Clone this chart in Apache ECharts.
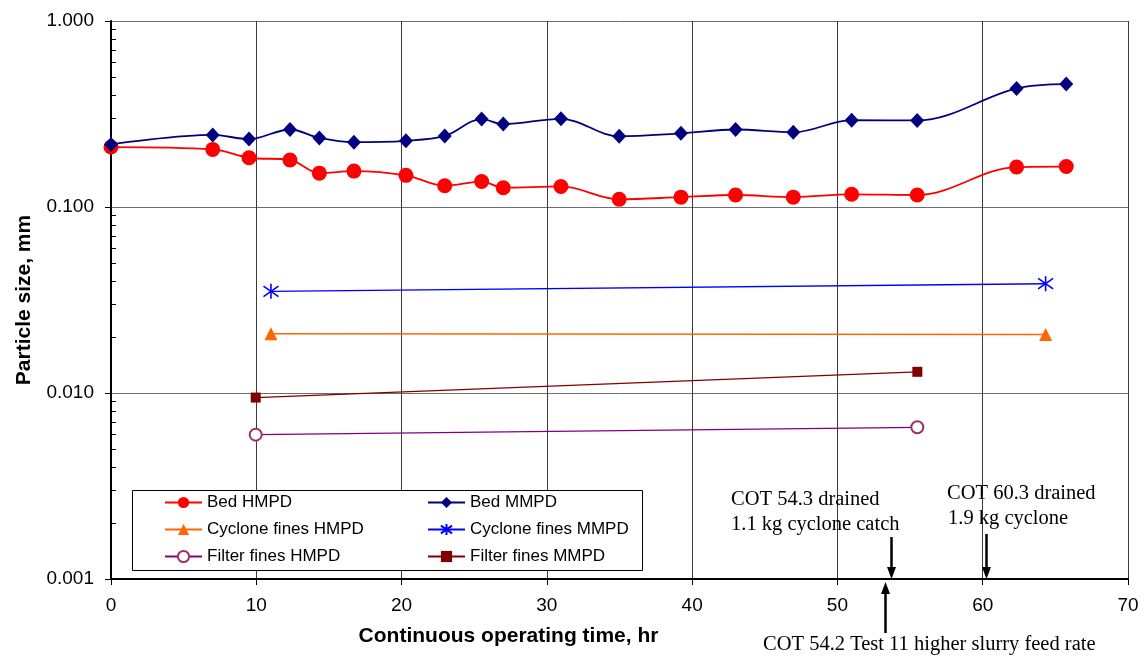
<!DOCTYPE html>
<html>
<head>
<meta charset="utf-8">
<script src="https://cdn.jsdelivr.net/npm/echarts@6/dist/echarts.min.js"></script>
<style>
  html, body { margin: 0; padding: 0; background: #ffffff; }
  #chart { width: 1147px; height: 657px; }
</style>
</head>
<body>
<div id="chart"></div>
<script>
// Bed samples: continuous operating time (hr) and mean particle diameters (mm)
const bedHours = [0, 7.0, 9.5, 12.32, 14.34, 16.72, 20.3, 22.97, 25.51, 27.0, 30.97, 34.98, 39.23, 42.99, 46.96, 50.98, 55.49, 62.33, 65.75];
const bedHMPD = [0.210, 0.204, 0.184, 0.179, 0.152, 0.156, 0.148, 0.130, 0.137, 0.127, 0.129, 0.110, 0.113, 0.116, 0.113, 0.117, 0.116, 0.164, 0.165];
const bedMMPD = [0.217, 0.244, 0.232, 0.261, 0.235, 0.223, 0.227, 0.241, 0.297, 0.279, 0.298, 0.240, 0.249, 0.261, 0.252, 0.293, 0.292, 0.434, 0.458];

// Cyclone fines samples
const cycloneHours = [11.01, 64.33];
const cycloneHMPD = [0.0208, 0.0206];
const cycloneMMPD = [0.0352, 0.0387];

// Filter fines samples
const filterHours = [9.96, 55.5];
const filterHMPD = [0.00597, 0.00654];
const filterMMPD = [0.00945, 0.0130];

// Axis ranges and minor log ticks
const xRange = [0, 70];
const xStep = 10;
const yRange = [0.001, 1];
const yMinorTicks = [0.002, 0.003, 0.004, 0.005, 0.006, 0.007, 0.008, 0.009,
                     0.02, 0.03, 0.04, 0.05, 0.06, 0.07, 0.08, 0.09,
                     0.2, 0.3, 0.4, 0.5, 0.6, 0.7, 0.8, 0.9];

// Operating events (hr) shown as arrows against the time axis
const eventNotes = [
  { hour: 53.7, dir: 'down', lines: ['COT 54.3 drained', '1.1 kg cyclone catch'] },
  { hour: 60.25, dir: 'down', lines: ['COT 60.3 drained', '1.9 kg cyclone'] },
  { hour: 53.3, dir: 'up', lines: ['COT 54.2 Test 11 higher slurry feed rate'] }
];

const pairs = (xs, ys) => xs.map((x, i) => [x, ys[i]]);

const sans = 'Liberation Sans, Arial, sans-serif';
const serif = 'Liberation Serif, Times New Roman, serif';

const chart = echarts.init(document.getElementById('chart'), null, { renderer: 'canvas' });

const asterisk = 'path://M10,0 L10,20 M2,3 L18,17 M2,17 L18,3';

const legendBase = {
  orient: 'vertical', top: 494, z: 10, padding: 0,
  itemWidth: 37, itemHeight: 14, itemGap: 10,
  textStyle: { fontFamily: sans, fontSize: 17, color: '#000' }
};

const option = {
  backgroundColor: '#ffffff',
  animation: false,
  grid: { left: 111, right: 19, top: 21, bottom: 78, containLabel: false },
  xAxis: {
    type: 'value',
    min: xRange[0], max: xRange[1], interval: xStep,
    name: 'Continuous operating time, hr',
    nameLocation: 'middle',
    nameGap: 47,
    nameTextStyle: { fontFamily: sans, fontSize: 21, fontWeight: 'bold', color: '#000', padding: [0, 222, 0, 0] },
    axisLine: { onZero: false, lineStyle: { color: '#000', width: 2 } },
    axisTick: { show: true, inside: false, length: 6, lineStyle: { color: '#000', width: 1 } },
    axisLabel: { fontFamily: sans, fontSize: 19, color: '#000', margin: 17 },
    splitLine: { show: true, lineStyle: { color: '#3a3a3a', width: 1 } }
  },
  yAxis: [
    {
      type: 'log', logBase: 10,
      min: yRange[0], max: yRange[1],
      name: 'Particle size, mm',
      nameLocation: 'middle',
      nameGap: 76,
      nameTextStyle: { fontFamily: sans, fontSize: 21, fontWeight: 'bold', color: '#000' },
      axisLine: { lineStyle: { color: '#000', width: 2 } },
      axisTick: { show: true, inside: false, length: 6, lineStyle: { color: '#000', width: 1 } },
      axisLabel: { fontFamily: sans, fontSize: 19, color: '#000', margin: 17, formatter: v => v.toFixed(3) },
      minorTick: { show: false },
      splitLine: { show: true, lineStyle: { color: '#6e6e6e', width: 1 } }
    },
    {
      type: 'log', logBase: 10,
      min: yRange[0], max: yRange[1],
      position: 'left',
      axisLine: { show: false },
      axisLabel: { show: false },
      splitLine: { show: false },
      axisTick: { show: true, inside: true, length: 5, customValues: yMinorTicks, lineStyle: { color: '#000', width: 1 } }
    }
  ],
  legend: [
    Object.assign({}, legendBase, { left: 164, data: ['Bed HMPD', 'Cyclone fines HMPD', 'Filter fines HMPD'] }),
    Object.assign({}, legendBase, { left: 427, data: ['Bed MMPD', 'Cyclone fines MMPD', 'Filter fines MMPD'] })
  ],
  series: [
    {
      name: 'Bed HMPD', type: 'line', smooth: 0.35,
      data: pairs(bedHours, bedHMPD),
      symbol: 'circle', symbolSize: 15,
      lineStyle: { color: '#ff0000', width: 1.8 },
      itemStyle: { color: '#ff0000' }
    },
    {
      name: 'Bed MMPD', type: 'line', smooth: 0.35,
      data: pairs(bedHours, bedMMPD),
      symbol: 'diamond', symbolSize: [14, 15],
      lineStyle: { color: '#000080', width: 1.8 },
      itemStyle: { color: '#000080' }
    },
    {
      name: 'Cyclone fines HMPD', type: 'line',
      data: pairs(cycloneHours, cycloneHMPD),
      symbol: 'triangle', symbolSize: 13,
      lineStyle: { color: '#ff6600', width: 1.5 },
      itemStyle: { color: '#ff6600' }
    },
    {
      name: 'Cyclone fines MMPD', type: 'line',
      data: pairs(cycloneHours, cycloneMMPD),
      symbol: asterisk, symbolSize: 15,
      lineStyle: { color: '#0000ff', width: 1.4 },
      itemStyle: { color: '#0000ff', borderColor: '#0000ff', borderWidth: 1.6 }
    },
    {
      name: 'Filter fines HMPD', type: 'line',
      data: pairs(filterHours, filterHMPD),
      symbol: 'emptyCircle', symbolSize: 12,
      lineStyle: { color: '#800080', width: 1.3 },
      itemStyle: { color: '#993366', borderColor: '#993366', borderWidth: 1.5 }
    },
    {
      name: 'Filter fines MMPD', type: 'line',
      data: pairs(filterHours, filterMMPD),
      symbol: 'rect', symbolSize: 10,
      lineStyle: { color: '#800000', width: 1.3 },
      itemStyle: { color: '#800000' }
    }
  ]
};

chart.setOption(option);

// Legend frame and event annotations
const axisY = chart.convertToPixel({ yAxisIndex: 0 }, yRange[0]);
const graphics = [
  {
    type: 'rect', silent: true, z: 3,
    shape: { x: 132.5, y: 490.5, width: 510, height: 80 },
    style: { fill: '#ffffff', stroke: '#000', lineWidth: 1 }
  }
];

const noteText = [
  { x: 731, y: 500, text: eventNotes[0].lines[0] },
  { x: 731, y: 525, text: eventNotes[0].lines[1] },
  { x: 947, y: 494, text: eventNotes[1].lines[0] },
  { x: 948, y: 519, text: eventNotes[1].lines[1] },
  { x: 763, y: 645, text: eventNotes[2].lines[0] }
];
noteText.forEach(n => graphics.push({
  type: 'text', silent: true, z: 10, x: n.x, y: n.y,
  style: { text: n.text, font: '20.5px ' + serif, fill: '#000', textVerticalAlign: 'middle' }
}));

const arrowSpans = [
  { from: 537, to: axisY },
  { from: 534, to: axisY },
  { from: 633, to: axisY + 3 }
];
eventNotes.forEach((ev, i) => {
  const px = Math.round(chart.convertToPixel({ xAxisIndex: 0 }, ev.hour)) + 0.5;
  const s = arrowSpans[i];
  const head = 12, half = 4.5;
  const dirSign = ev.dir === 'down' ? 1 : -1;
  const shaftEnd = s.to - dirSign * head;
  graphics.push({
    type: 'line', silent: true, z: 10,
    shape: { x1: px, y1: s.from, x2: px, y2: shaftEnd },
    style: { stroke: '#000', lineWidth: 2.5 }
  });
  graphics.push({
    type: 'polygon', silent: true, z: 10,
    shape: { points: [[px - half, shaftEnd], [px + half, shaftEnd], [px, s.to]] },
    style: { fill: '#000' }
  });
});

chart.setOption({ graphic: graphics });
</script>
</body>
</html>
